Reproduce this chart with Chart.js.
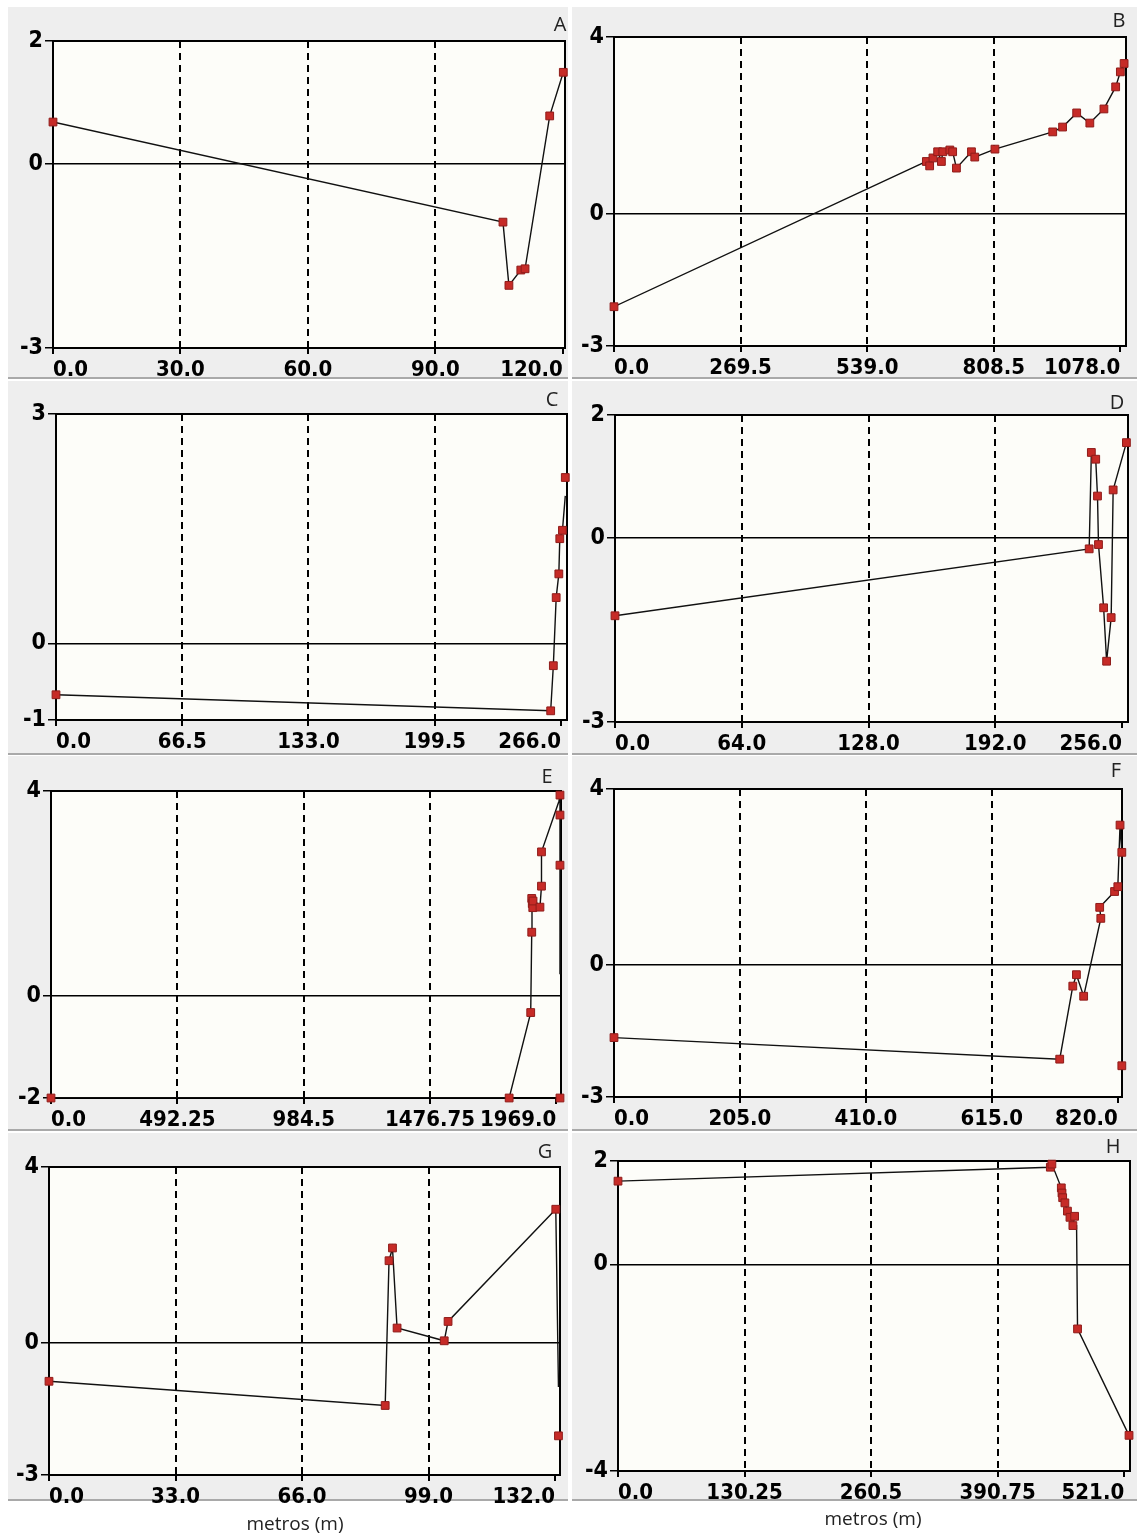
<!DOCTYPE html>
<html>
<head>
<meta charset="utf-8">
<script src="https://cdn.jsdelivr.net/npm/chart.js@4.4.1/dist/chart.umd.min.js"></script>
<style>
body { margin: 0; background: #fff; width: 1137px; height: 1537px; position: relative; overflow: hidden; font-family: 'Open Sans', 'Noto Sans', sans-serif; }
.panel { position: absolute; background: #eeeeee; border-bottom: 2px solid #a9a9a9; }
canvas { position: absolute; }
.tag { position: absolute; font-size: 20px; color: #222; transform: translate(-50%, -50%); }
.xtitle { position: absolute; font-size: 19px; color: #222; transform: translate(-50%, -50%); white-space: nowrap; }
</style>
</head>
<body>
<script>
// A
const A_x = [0, 105.9, 107.3, 110.1, 111.1, 116.9, 120.1];
const A_y = [0.68, -0.95, -1.98, -1.73, -1.71, 0.78, 1.49];
const A_xt = [0, 30, 60, 90, 120];
const A_yt = [-3, 0, 2];

// B
const B_x = [0, 665, 672, 679, 689, 697, 700, 715, 721, 729, 761, 768, 811, 934, 955, 985, 1013, 1043, 1068, 1078, 1086];
const B_y = [-2.11, 1.18, 1.08, 1.26, 1.40, 1.18, 1.40, 1.44, 1.40, 1.03, 1.40, 1.28, 1.46, 1.85, 1.96, 2.28, 2.05, 2.37, 2.87, 3.21, 3.40];
const B_xt = [0, 269.5, 539, 808.5, 1078];
const B_yt = [-3, 0, 4];

// C
const C_x = [0, 260.6, 262, 263.5, 264.9, 265.4, 266.8, 268.3];
const C_y = [-0.67, -0.88, -0.29, 0.60, 0.91, 1.37, 1.48, 1.93];
const C_mx = [0, 260.6, 262, 263.5, 264.9, 265.4, 266.8, 268.3];
const C_my = [-0.67, -0.88, -0.29, 0.60, 0.91, 1.37, 1.48, 2.17];
const C_xt = [0, 66.5, 133, 199.5, 266];
const C_yt = [-1, 0, 3];

// D
const D_x = [0, 239.4, 240.5, 242.7, 243.6, 244.1, 246.7, 248.2, 250.5, 251.5, 258.2];
const D_y = [-1.27, -0.18, 1.39, 1.28, 0.68, -0.11, -1.14, -2.01, -1.30, 0.78, 1.55];
const D_xt = [0, 64, 128, 192, 256];
const D_yt = [-3, 0, 2];

// E
const E_x = [0, 1785, 1869, 1873, 1874, 1876, 1905, 1911, 1911, 1979, 1983, 1983, 1983, 1983];
const E_y = [-2, -2, -0.33, 1.24, 1.80, 1.92, 1.73, 2.14, 2.81, 3.80, 3.92, 3.53, 2.55, 0.42];
const E_mx = [0, 1785, 1869, 1873, 1873, 1875, 1877, 1878, 1905, 1911, 1911, 1983, 1983, 1983, 1983];
const E_my = [-2, -2, -0.33, 1.24, 1.90, 1.80, 1.72, 1.85, 1.73, 2.14, 2.81, 3.92, 3.53, 2.55, -2];
const E_xt = [0, 492.25, 984.5, 1476.75, 1969];
const E_yt = [-2, 0, 4];

// F
const F_x = [0, 725.6, 746.9, 752.8, 764.6, 792.5, 790.7, 814.9, 820.2, 823.8, 826.7, 826.7];
const F_y = [-1.65, -2.14, -0.48, -0.22, -0.71, 1.06, 1.31, 1.67, 1.78, 3.18, 2.56, -2.29];
const F_xt = [0, 205, 410, 615, 820];
const F_yt = [-3, 0, 4];

// G
const G_x = [0, 87.7, 88.7, 89.6, 90.8, 103.1, 104.1, 132.2, 132.9];
const G_y = [-0.87, -1.42, 1.87, 2.16, 0.34, 0.05, 0.49, 3.04, -1.0];
const G_mx = [0, 87.7, 88.7, 89.6, 90.8, 103.1, 104.1, 132.2, 132.9];
const G_my = [-0.87, -1.42, 1.87, 2.16, 0.34, 0.05, 0.49, 3.04, -2.11];
const G_xt = [0, 33, 66, 99, 132];
const G_yt = [-3, 0, 4];

// H
const H_x = [0, 445, 446.6, 456.3, 457.7, 460, 462.6, 465.2, 470, 468.2, 472, 473, 526];
const H_y = [1.61, 1.88, 1.94, 1.48, 1.29, 1.19, 1.03, 0.91, 0.93, 0.75, 0.75, -1.25, -3.31];
const H_mx = [0, 445, 446.6, 456.3, 457, 457.7, 460, 462.6, 465.2, 470, 468.2, 473, 526];
const H_my = [1.61, 1.88, 1.94, 1.48, 1.38, 1.29, 1.19, 1.03, 0.91, 0.93, 0.75, -1.25, -3.31];
const H_xt = [0, 130.25, 260.5, 390.75, 521];
const H_yt = [-4, 0, 2];

const fontFamily = "'Liberation Sans Narrow', 'DejaVu Sans Condensed', 'Liberation Sans', sans-serif";
const xFont = {family: fontFamily, size: 22, weight: 'bold'};
const yFont = {family: fontFamily, size: 23, weight: 'bold'};
const YW = 36, XH = 30;

// plot background + frame round the chart area
const frame = {
    id: 'frame',
    beforeDraw: function (chart) {
        const a = chart.chartArea, ctx = chart.ctx;
        ctx.save();
        ctx.fillStyle = '#fdfdf9';
        ctx.fillRect(a.left, a.top, a.right - a.left, a.bottom - a.top);
        ctx.restore();
    },
    beforeDatasetsDraw: function (chart) {
        const a = chart.chartArea, ctx = chart.ctx;
        ctx.save();
        ctx.strokeStyle = '#000';
        ctx.lineWidth = 2;
        ctx.strokeRect(a.left, a.top, a.right - a.left, a.bottom - a.top);
        ctx.restore();
    }
};

const pts = function (xs, ys) {
    return xs.map(function (x, i) { return {x: x, y: ys[i]}; });
};

const addBox = function (cls, l, t, w, h, text) {
    const d = document.createElement('div');
    d.className = cls;
    d.style.left = l + 'px';
    d.style.top = t + 'px';
    if (w) d.style.width = w + 'px';
    if (h) d.style.height = h + 'px';
    if (text) d.textContent = text;
    document.body.appendChild(d);
};

const drawPanel = function (p) {
    const cv = document.createElement('canvas');
    const h = p.plot[3] + 45 - p.ct;
    const w = p.plot[2] + 10 - p.cl;
    cv.width = w;
    cv.height = h;
    cv.style.left = p.cl + 'px';
    cv.style.top = p.ct + 'px';
    document.body.appendChild(cv);
    const last = p.xt.length - 1;

    new Chart(cv.getContext('2d'), {
        type: 'scatter',
        data: {
            datasets: [{
                data: pts(p.lx, p.ly),
                showLine: true,
                borderColor: '#111',
                borderWidth: 1.4,
                pointRadius: 0,
                order: 2
            }, {
                data: pts(p.mx, p.my),
                showLine: false,
                pointStyle: 'rect',
                pointRadius: 5.5,
                backgroundColor: '#c62b27',
                borderColor: '#8f1c1a',
                borderWidth: 1,
                clip: false,
                order: 1
            }]
        },
        options: {
            responsive: false,
            animation: false,
            events: [],
            layout: {
                padding: {
                    left: p.plot[0] - p.cl - YW,
                    top: p.plot[1] - p.ct,
                    right: w - (p.plot[2] - p.cl),
                    bottom: h - (p.plot[3] - p.ct) - XH
                }
            },
            plugins: {legend: {display: false}, tooltip: {enabled: false}},
            scales: {
                x: {
                    type: 'linear',
                    min: 0,
                    max: p.xmax,
                    afterFit: function (s) { s.height = XH; },
                    afterBuildTicks: function (s) { s.ticks = p.xt.map(function (v) { return {value: v}; }); },
                    grid: {
                        color: function (c) { return (c.index === 0 || c.index === last) ? 'rgba(0,0,0,0)' : '#000'; },
                        lineWidth: 2,
                        tickColor: '#000',
                        tickLength: 6
                    },
                    border: {display: false, dash: [7, 5]},
                    ticks: {
                        font: xFont, color: '#000', align: 'inner', padding: 3,
                        maxRotation: 0, minRotation: 0, autoSkip: false,
                        callback: function (v) { return Number.isInteger(v) ? v.toFixed(1) : String(v); }
                    }
                },
                y: {
                    type: 'linear',
                    min: p.yt[0],
                    max: p.yt[p.yt.length - 1],
                    afterFit: function (s) { s.width = YW; },
                    afterBuildTicks: function (s) { s.ticks = p.yt.map(function (v) { return {value: v}; }); },
                    grid: {
                        color: function (c) { return (c.tick && c.tick.value === 0) ? '#000' : 'rgba(0,0,0,0)'; },
                        lineWidth: 1.5,
                        tickColor: '#000',
                        tickLength: 8
                    },
                    border: {display: false},
                    ticks: {font: yFont, color: '#000', padding: 2, autoSkip: false, callback: function (v) { return String(v); }}
                }
            }
        },
        plugins: [frame]
    });
};

window.onload = function () {
    const colL = [8, 560], colR = [572, 565];
    const rows = [[7, 377], [381, 753], [756, 1129], [1133, 1499]];

    const panels = [
        {tag: 'A', col: colL, row: 0, plot: [53, 41, 565, 348], xmax: 120.5, lx: A_x, ly: A_y, mx: A_x, my: A_y, xt: A_xt, yt: A_yt, tagAt: [560, 23]},
        {tag: 'B', col: colR, row: 0, plot: [614, 37, 1126, 346], xmax: 1090, lx: B_x, ly: B_y, mx: B_x, my: B_y, xt: B_xt, yt: B_yt, tagAt: [1119, 19]},
        {tag: 'C', col: colL, row: 1, plot: [56, 414, 567, 720], xmax: 269.2, lx: C_x, ly: C_y, mx: C_mx, my: C_my, xt: C_xt, yt: C_yt, tagAt: [552, 398]},
        {tag: 'D', col: colR, row: 1, plot: [615, 415, 1128, 722], xmax: 259, lx: D_x, ly: D_y, mx: D_x, my: D_y, xt: D_xt, yt: D_yt, tagAt: [1117, 401]},
        {tag: 'E', col: colL, row: 2, plot: [51, 791, 561, 1098], xmax: 1987, lx: E_x, ly: E_y, mx: E_mx, my: E_my, xt: E_xt, yt: E_yt, tagAt: [547, 775]},
        {tag: 'F', col: colR, row: 2, plot: [614, 789, 1122, 1097], xmax: 827, lx: F_x, ly: F_y, mx: F_x, my: F_y, xt: F_xt, yt: F_yt, tagAt: [1116, 769]},
        {tag: 'G', col: colL, row: 3, plot: [49, 1167, 560, 1475], xmax: 133.3, lx: G_x, ly: G_y, mx: G_mx, my: G_my, xt: G_xt, yt: G_yt, tagAt: [545, 1150]},
        {tag: 'H', col: colR, row: 3, plot: [618, 1161, 1130, 1471], xmax: 527, lx: H_x, ly: H_y, mx: H_mx, my: H_my, xt: H_xt, yt: H_yt, tagAt: [1113, 1145]}
    ];

    panels.forEach(function (p) {
        const r = rows[p.row];
        addBox('panel', p.col[0], r[0], p.col[1], r[1] - r[0]);
    });
    panels.forEach(function (p) {
        p.cl = p.col[0];
        p.ct = rows[p.row][0];
        drawPanel(p);
        addBox('tag', p.tagAt[0], p.tagAt[1], 0, 0, p.tag);
    });
    addBox('xtitle', 295, 1523, 0, 0, 'metros (m)');
    addBox('xtitle', 873, 1518, 0, 0, 'metros (m)');
};
</script>
</body>
</html>
